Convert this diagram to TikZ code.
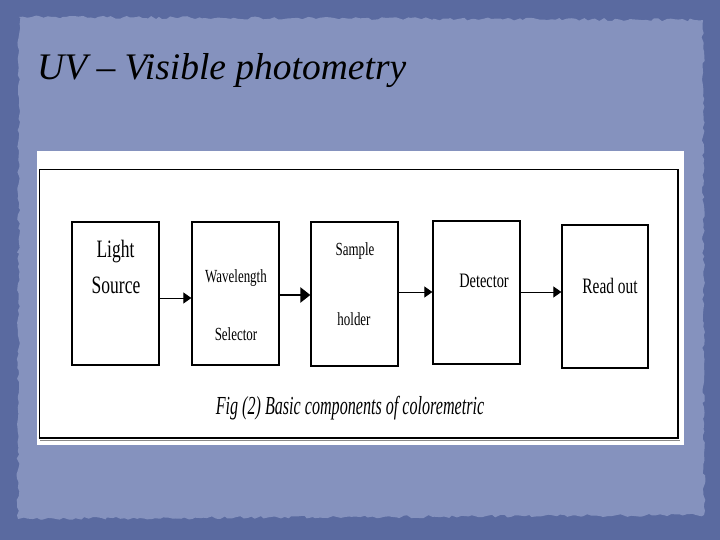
\documentclass[tikz,border=0pt]{standalone}
\usepackage{fontspec}
\setmainfont{Liberation Serif}
\newfontfamily\nserif[FakeStretch=0.7]{Liberation Serif}
\newfontfamily\capserif[FakeStretch=0.62]{Liberation Serif}
\usetikzlibrary{arrows.meta,decorations.pathmorphing}
\definecolor{bgdark}{HTML}{5A6AA0}
\definecolor{paper}{HTML}{8592BE}
\definecolor{shadowgray}{HTML}{8A8A8A}
\tikzset{
  blockbox/.style={draw=black, line width=1.3pt, fill=white, inner sep=0pt},
  lbl/.style={anchor=base, inner sep=0pt, text=black},
  arr/.style={line width=1pt, -{Triangle[length=8pt,width=11pt]}},
  arrthick/.style={line width=2.4pt, -{Triangle[length=10pt,width=15pt]}},
}
\begin{document}
\begin{tikzpicture}[x=1pt,y=-1pt]
\pgfmathsetseed{7}
\useasboundingbox (0,0) rectangle (720,540);
% background
\fill[bgdark] (0,0) rectangle (720,540);
\fill[paper, decorate, decoration={random steps, segment length=4pt, amplitude=1.5pt}]
  (19,17) -- (703,20) -- (704,515) -- (18,519) -- cycle;
% title
\node[anchor=base west, inner sep=0pt, font=\fontsize{37.5}{40}\selectfont\itshape] (title) at (37,80) {UV – Visible photometry};
% white picture
\fill[white] (37,151) rectangle (684,445);
\node[draw=black, line width=0.8pt, inner sep=0pt, minimum width=639pt, minimum height=269pt] (frame) at (358.5,303.5) {};
\draw[shadowgray, line width=1.5pt] (40,440.5) -- (680,440.5);
\draw[black, line width=2pt] (frame.south west) -- (frame.south east) -- (frame.north east);
% blocks
\node[blockbox, minimum width=87pt, minimum height=143pt] (ls) at (115.5,293.5) {};
\node[blockbox, minimum width=87pt, minimum height=143pt] (ws) at (235.5,293.5) {};
\node[blockbox, minimum width=87pt, minimum height=144pt] (sh) at (354.5,294) {};
\node[blockbox, minimum width=87pt, minimum height=143pt] (det) at (476.5,292.5) {};
\node[blockbox, minimum width=86pt, minimum height=143pt] (ro) at (605,296.5) {};
% labels
\node[lbl, font=\nserif\fontsize{25}{27}\selectfont] (l1) at (115.5,258) {Light};
\node[lbl, font=\nserif\fontsize{25}{27}\selectfont] (l2) at (116,293) {Source};
\node[lbl, font=\nserif\fontsize{18.5}{20}\selectfont] (w1) at (236,282) {Wavelength};
\node[lbl, font=\nserif\fontsize{18.5}{20}\selectfont] (w2) at (236,340) {Selector};
\node[lbl, font=\nserif\fontsize{18.5}{20}\selectfont] (s1) at (355,255) {Sample};
\node[lbl, font=\nserif\fontsize{18.5}{20}\selectfont] (s2) at (354,325) {holder};
\node[lbl, font=\nserif\fontsize{20.5}{22}\selectfont] (d1) at (484,287) {Detector};
\node[lbl, font=\nserif\fontsize{22}{24}\selectfont] (r1) at (610,293) {Read out};
\node[lbl, font=\capserif\fontsize{26}{28}\selectfont\itshape] (cap) at (350,414) {Fig (2) Basic components of coloremetric};
% arrows
\draw[arr] (ls.east |- 0,298) -- (ws.west |- 0,298);
\draw[arrthick] (ws.east |- 0,295) -- (sh.west |- 0,295);
\draw[arr] (sh.east |- 0,292) -- (det.west |- 0,292);
\draw[arr] (det.east |- 0,292) -- (ro.west |- 0,292);
\end{tikzpicture}
\end{document}
